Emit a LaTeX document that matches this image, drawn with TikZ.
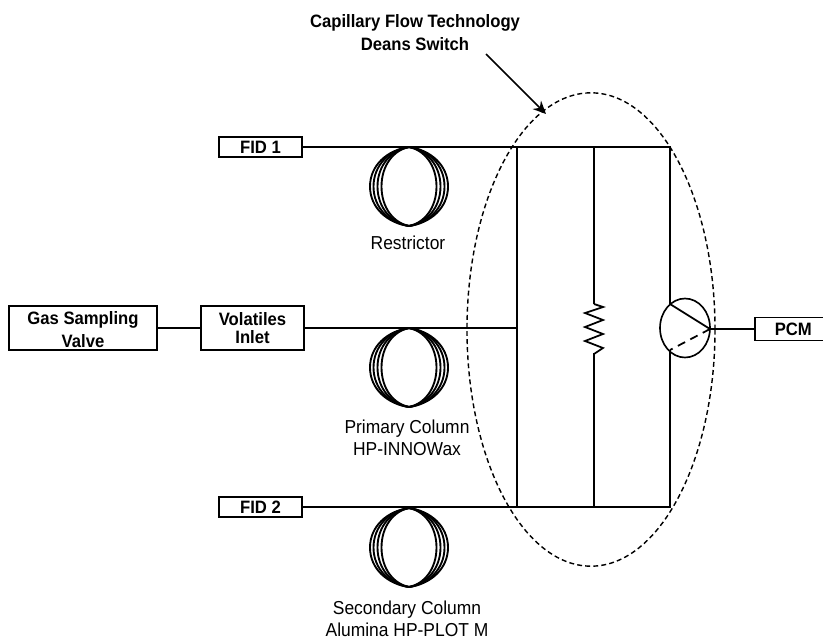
\documentclass[tikz,border=0pt]{standalone}
\usepackage{fontspec}
\setmainfont{Liberation Sans}
\newfontfamily\narrowfont[FakeStretch=0.93]{Liberation Sans}
\usetikzlibrary{arrows.meta, positioning, calc, shapes.geometric}

\begin{document}
\begin{tikzpicture}[
	x=0.03cm, y=-0.03cm,
	block/.style={rectangle, draw=black, line width=1.6pt, fill=white, inner sep=0pt,
		align=center, font=\narrowfont\bfseries\fontsize{15.3}{19.5}\selectfont},
	pipe/.style={draw=black, line width=1.5pt},
	annot/.style={font=\narrowfont\fontsize{16}{19}\selectfont, align=center, inner sep=0pt},
	title/.style={font=\narrowfont\bfseries\fontsize{15.3}{19.5}\selectfont, align=center, inner sep=0pt},
	coil/.pic={
		\foreach \r in {27.5,31.5,35.5,39} {
			\draw[line width=1.6pt] (0,0) .. controls (-0.55*\r,3) and (-\r,18) .. (-\r,39.5)
				.. controls (-\r,61) and (-0.55*\r,76) .. (0,79)
				.. controls (0.55*\r,76) and (\r,61) .. (\r,39.5)
				.. controls (\r,18) and (0.55*\r,3) .. (0,0);
		}
	}
	]
	\useasboundingbox (0,0) rectangle (823,640);
	% --- Left: boxes ---
	\node[block, minimum width=2.49cm, minimum height=0.6cm] (fidone) at (260.5,147) {FID 1};
	\node[block, minimum width=4.44cm, minimum height=1.32cm] (gas) at (83,328) {\rule{0pt}{14.5pt}Gas Sampling\\ Valve};
	\node[block, minimum width=3.09cm, minimum height=1.32cm] (inlet) at (252.5,328) {Volatiles\\[-4.5pt] Inlet};
	\node[block, minimum width=2.49cm, minimum height=0.6cm] (fidtwo) at (260.5,507) {FID 2};
	\node[block, minimum width=2.3cm, minimum height=0.69cm, anchor=west] (pcm) at (754,329) {PCM};

	% --- Junctions of the switch ---
	\coordinate (topleft) at (517,147);
	\coordinate (topmid) at (594,147);
	\coordinate (topright) at (670,147);
	\coordinate (midleft) at (517,328);
	\coordinate (botleft) at (517,507);
	\coordinate (botmid) at (594,507);
	\coordinate (botright) at (670,507);
	\coordinate (restop) at (594,304);
	\coordinate (resbot) at (594,353);
	\coordinate (valveup) at (670,304);
	\coordinate (valvedown) at (670,350);
	\coordinate (valveout) at (710,329);

	% --- Columns ---
	\pic at (409,147) {coil};
	\pic at (409,328) {coil};
	\pic at (409,508) {coil};
	\node[annot] (restr) at (408,243) {Restrictor};
	\node[annot] (prim) at (407,438) {Primary Column\\ HP-INNOWax};
	\node[annot] (sec) at (407,619) {Secondary Column\\ Alumina HP-PLOT M};

	% --- Lines ---
	\draw[pipe] (fidone) -- (topleft) -- (topright) -- (valveup);
	\draw[pipe] (gas) -- (inlet);
	\draw[pipe] (inlet) -- (midleft);
	\draw[pipe] (fidtwo) -- (botleft) -- (botright) -- (valvedown);
	\draw[pipe] (topleft) -- (botleft);
	\draw[pipe] (topmid) -- (restop);
	\draw[pipe] (resbot) -- (botmid);
	\draw[pipe, line join=miter] (restop) -- ++(9,3) -- ++(-18,6) -- ++(18,7) -- ++(-18,7) -- ++(18,7) -- ++(-18,7) -- ++(18,7) -- ++(-9,6);
	\node[draw=black, line width=1.4pt, ellipse, inner sep=0pt, minimum width=1.5cm, minimum height=1.77cm] (valve) at (685,328) {};
	\draw[pipe] (valveup) -- (valveout);
	\draw[pipe, dash pattern=on 7pt off 5pt] (valveout) -- (valvedown);
	\draw[pipe] (valveout) -- (pcm);

	% --- Dashed outline and its label ---
	\node[draw=black, line width=1.2pt, dash pattern=on 4.2pt off 2.7pt, ellipse, inner sep=0pt, minimum width=7.44cm, minimum height=14.2cm] (switch) at (591,329.5) {};
	\node[title] (deans) at (415,32.5) {Capillary Flow Technology\\ Deans Switch};
	\coordinate (arrowstart) at (486,54);
	\coordinate (arrowend) at (546,114);
	\draw[-{Stealth[length=11pt,width=10pt]}, line width=1.5pt] (arrowstart) -- (arrowend);
\end{tikzpicture}
\end{document}
